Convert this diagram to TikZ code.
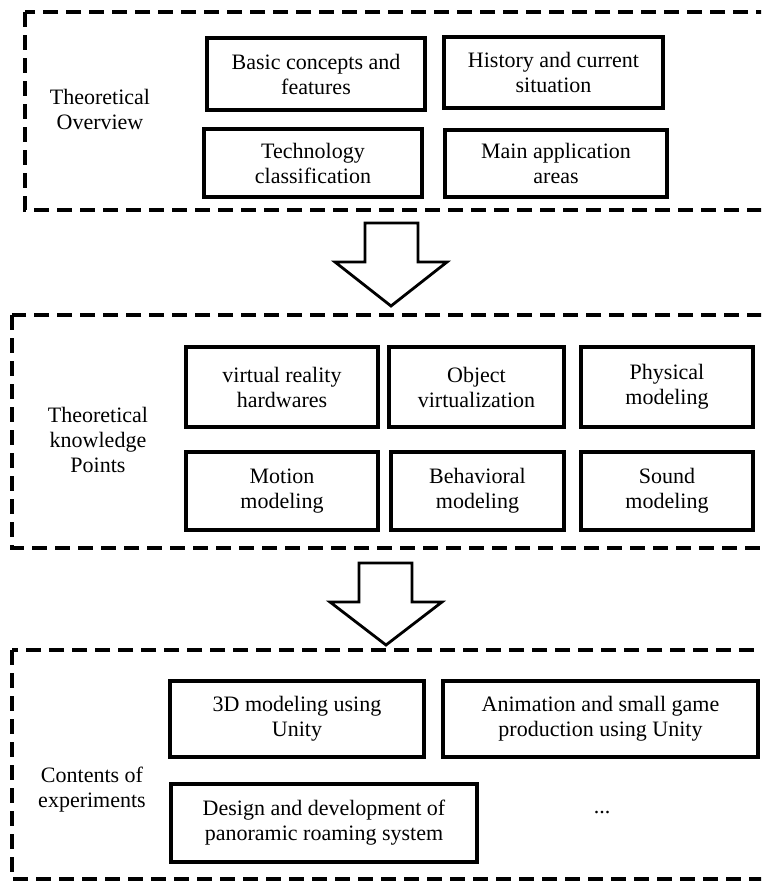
\documentclass[tikz,border=0pt]{standalone}
\usepackage{fontspec}
\setmainfont{Liberation Serif}
\begin{document}
\begin{tikzpicture}[x=0.5pt,y=-0.5pt,
  txt/.style={font=\fontsize{11}{12.5}\selectfont, align=center, inner sep=0pt},
  item/.style={txt, draw, line width=1.9pt},
  frame/.style={draw, line width=1.8pt, dash pattern=on 7.5pt off 4pt},
  blockarrow/.style={draw, line width=1.4pt, line join=miter, fill=white}]
\clip (0,0) rectangle (761,884);
\fill[white] (0,0) rectangle (761,884);

% a framed item: name, left, top, right, bottom, text
\newcommand\cellbox[6]{%
  \node[item, minimum width={(#4-#2)*0.5pt}, minimum height={(#5-#3)*0.5pt}]
    (#1) at ({(#2+#4)/2},{(#3+#5)/2}) {#6};}

% ---- section 1: overview
\draw[frame] (25,12) rectangle (775,210);
\node[txt] (lab1) at (100,109) {Theoretical\\Overview};
\cellbox{basic}{207}{38}{425}{110}{Basic concepts and\\features}
\cellbox{hist}{444}{37}{663}{108}{History and current\\situation}
\cellbox{tech}{204}{129}{422}{197}{Technology\\classification}
\cellbox{appl}{445}{130}{667}{197}{Main application\\areas}

% ---- arrow 1
\draw[blockarrow] (365,223) -- (418,223) -- (418,262) -- (447,262) -- (391,306)
  -- (335,262) -- (365,262) -- cycle;

% ---- section 2: knowledge points
\draw[frame] (12,315) rectangle (775,548);
\node[txt] (lab2) at (98,440) {Theoretical\\knowledge\\Points};
\cellbox{hw}{186}{347}{378}{427}{virtual reality\\hardwares}
\cellbox{obj}{389}{347}{564}{427}{Object\\virtualization}
\cellbox{phys}{581}{347}{753}{427}{Physical\\modeling}
\cellbox{motion}{186}{452}{378}{530}{Motion\\modeling}
\cellbox{behav}{391}{452}{564}{530}{Behavioral\\modeling}
\cellbox{sound}{581}{452}{753}{530}{Sound\\modeling}

% ---- arrow 2
\draw[blockarrow] (359,563) -- (412,563) -- (412,602) -- (442,602) -- (386,645)
  -- (330,602) -- (359,602) -- cycle;

% ---- section 3: experiments
\draw[frame] (12,650) rectangle (775,879);
\node[txt] (lab3) at (92,790) {Contents of\\experiments};
\cellbox{unity3d}{170}{681}{424}{757}{3D modeling using\\Unity}
\cellbox{anim}{443}{681}{758}{757}{Animation and small game\\production using Unity}
\cellbox{pano}{171}{784}{477}{862}{Design and development of\\panoramic roaming system}
\node[txt] (more) at (602,813) {...};
\end{tikzpicture}
\end{document}
